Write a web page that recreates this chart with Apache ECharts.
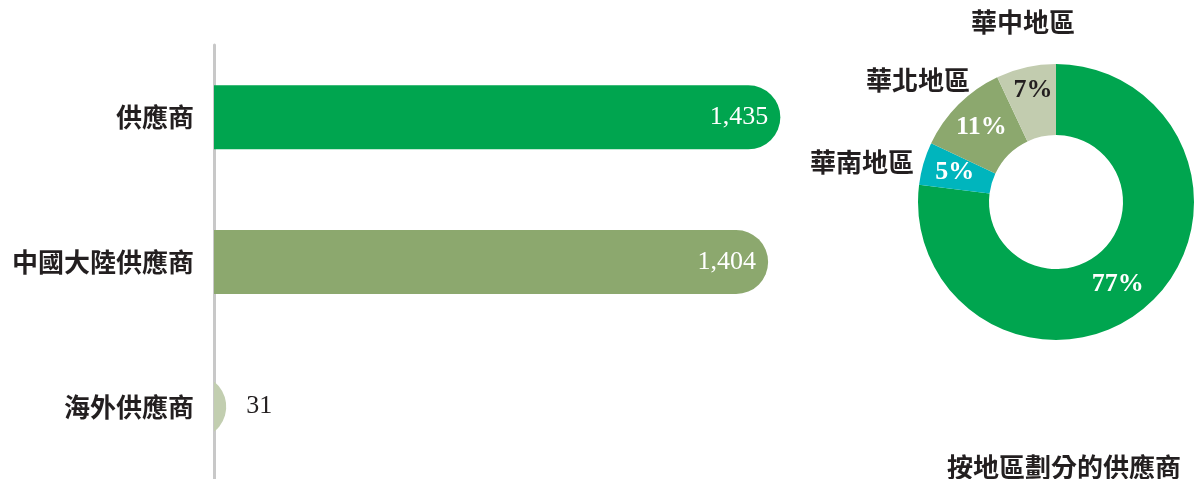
<!DOCTYPE html>
<html><head><meta charset="utf-8">
<script src="https://cdn.jsdelivr.net/npm/echarts@6/dist/echarts.min.js"></script>
<style>html,body{margin:0;padding:0;background:#fff}#c{width:1197px;height:479px}</style>
</head><body><div id="c"></div>
<script>
// ---- data ----
const barCategories = ['供應商', '中國大陸供應商', '海外供應商'];
const barValues = [1435, 1404, 31];
const regionNames = ['華東地區', '華南地區', '華北地區', '華中地區'];
const regionPercents = [77, 5, 11, 7];
const pieTitle = '按地區劃分的供應商';

// ---- styles ----
const barColors = ['#00A54F', '#8CA86E', '#C2CEB0'];
const pieColors = ['#00A54F', '#00B5BD', '#8CA86E', '#C2CCAF'];
const pctColors = ['#ffffff', '#ffffff', '#ffffff', '#231F20'];
const dark = '#231F20';
const cjk = '"Noto Sans CJK TC", "Noto Sans CJK SC", sans-serif';
const serif = '"Liberation Serif", "DejaVu Serif", serif';
const namePos = [[1067, 375], [862, 162], [918, 80], [1023, 22]];
const BAR_H = 64;

const chart = echarts.init(document.getElementById('c'), null, {renderer: 'canvas'});

const labelData = barValues.map((v, i) => {
  const inside = v > 200;
  return {
    value: v,
    label: inside
      ? {position: 'insideRight', distance: 12, color: '#ffffff'}
      : {position: 'right', distance: 20, color: dark}
  };
});

// pill bar: rectangle with a semicircular end, clipped at the axis
function renderPill(params, api) {
  const v = api.value(0);
  const idx = api.value(1);
  const start = api.coord([0, idx]);
  const end = api.coord([v, idx]);
  const x0 = start[0], y = start[1], xe = end[0];
  const r = BAR_H / 2;
  const cx = xe - r;
  let path;
  if (cx >= x0) {
    path = `M${x0},${y - r} L${cx},${y - r} A${r},${r} 0 0 1 ${cx},${y + r} L${x0},${y + r} Z`;
  } else {
    const d = x0 - cx;
    const h = Math.sqrt(Math.max(0, r * r - d * d));
    path = `M${x0},${y - h} A${r},${r} 0 0 1 ${x0},${y + h} Z`;
  }
  return {
    type: 'path',
    shape: {pathData: path},
    style: {fill: barColors[params.dataIndex]}
  };
}

chart.setOption({
  animation: false,
  title: {
    text: pieTitle, left: 942, top: 449,
    textStyle: {fontFamily: cjk, fontSize: 26, fontWeight: 'bold', color: dark}
  },
  grid: {left: 214, top: 45, width: 592, height: 434, containLabel: false},
  xAxis: {type: 'value', min: 0, max: 1500, show: false},
  yAxis: {
    type: 'category', inverse: true, data: barCategories,
    axisLine: {show: true, lineStyle: {color: '#C8C8C8', width: 3}},
    axisTick: {show: false},
    axisLabel: {fontFamily: cjk, fontSize: 26, fontWeight: 'bold', color: dark, margin: 20}
  },
  series: [
    {
      type: 'custom',
      renderItem: renderPill,
      data: barValues.map((v, i) => [v, i]),
      encode: {x: 0, y: 1},
      z: 1
    },
    {
      type: 'bar', data: labelData, barWidth: BAR_H,
      itemStyle: {color: 'rgba(0,0,0,0)'},
      silent: true,
      label: {
        show: true, fontFamily: serif, fontSize: 26,
        formatter: p => p.value.toLocaleString('en-US')
      },
      z: 3
    },
    {
      type: 'pie', center: [1056, 202], radius: [67, 138],
      startAngle: 90, clockwise: true, silent: true,
      data: regionPercents.map((v, i) => ({
        name: regionNames[i], value: v,
        itemStyle: {color: pieColors[i]},
        label: {color: pctColors[i]}
      })),
      label: {
        show: true, position: 'inside',
        fontFamily: serif, fontSize: 26, fontWeight: 'bold',
        formatter: p => p.value + '%'
      },
      labelLine: {show: false},
      labelLayout: p => (p.dataIndex === 3 ? {dy: -9} : p.dataIndex === 0 ? {dx: -8, dy: 3} : {})
    },
    {
      type: 'pie', center: [1056, 202], radius: [67, 138],
      startAngle: 90, clockwise: true, silent: true,
      itemStyle: {color: 'rgba(0,0,0,0)'},
      data: regionPercents.map((v, i) => ({name: regionNames[i], value: v})),
      label: {
        show: true, position: 'outside',
        fontFamily: cjk, fontSize: 26, fontWeight: 'bold', color: dark,
        formatter: p => p.name
      },
      labelLine: {show: false},
      labelLayout: p => ({
        x: namePos[p.dataIndex][0], y: namePos[p.dataIndex][1],
        align: 'center', verticalAlign: 'middle'
      })
    }
  ]
});
</script></body></html>
